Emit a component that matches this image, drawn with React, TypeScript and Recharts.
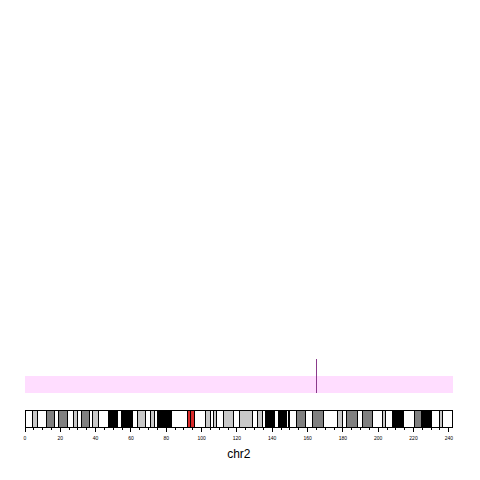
import React from "react";
import { ComposedChart, Bar, XAxis, YAxis, ReferenceLine, Label } from "recharts";

// chromosome 2, positions in Mb
const chromName = "chr2";
const chromLength = 242.193529;

const bandNames = [
  "p25.3", "p25.2", "p25.1", "p24.3", "p24.2", "p24.1", "p23.3", "p23.2", "p23.1", "p22.3",
  "p22.2", "p22.1", "p21", "p16.3", "p16.2", "p16.1", "p15", "p14", "p13.3", "p13.2",
  "p13.1", "p12", "p11.2", "p11.1", "q11.1", "q11.2", "q12.1", "q12.2", "q12.3", "q13",
  "q14.1", "q14.2", "q14.3", "q21.1", "q21.2", "q21.3", "q22.1", "q22.2", "q22.3", "q23.1",
  "q23.2", "q23.3", "q24.1", "q24.2", "q24.3", "q31.1", "q31.2", "q31.3", "q32.1", "q32.2",
  "q32.3", "q33.1", "q33.2", "q33.3", "q34", "q35", "q36.1", "q36.2", "q36.3", "q37.1",
  "q37.2", "q37.3",
];
const bandEnds = [
  4.4, 6.9, 12.0, 16.5, 19.0, 23.8, 27.7, 29.8, 31.8, 36.3,
  38.3, 41.5, 47.5, 52.6, 54.7, 61.0, 63.9, 68.4, 71.3, 73.3,
  74.8, 83.1, 91.8, 93.9, 96.0, 102.1, 105.3, 106.7, 108.7, 112.2,
  118.1, 121.6, 129.1, 131.7, 134.3, 136.1, 141.5, 143.4, 147.9, 149.0,
  149.6, 154.0, 158.9, 162.9, 168.9, 177.1, 179.7, 182.1, 188.5, 191.1,
  196.6, 202.5, 204.1, 208.2, 214.5, 220.7, 224.3, 225.2, 230.1, 234.7,
  236.4, 242.193529,
];
const bandStains = [
  "gneg", "gpos50", "gneg", "gpos75", "gneg", "gpos75", "gneg", "gpos25", "gneg", "gpos75",
  "gneg", "gpos50", "gneg", "gpos100", "gneg", "gpos100", "gneg", "gpos50", "gneg", "gpos50",
  "gneg", "gpos100", "gneg", "acen", "acen", "gneg", "gpos50", "gneg", "gpos25", "gneg",
  "gpos50", "gneg", "gpos50", "gneg", "gpos25", "gneg", "gpos100", "gneg", "gpos100", "gneg",
  "gpos25", "gneg", "gpos75", "gneg", "gpos75", "gneg", "gpos50", "gneg", "gpos75", "gneg",
  "gpos75", "gneg", "gpos50", "gneg", "gpos100", "gneg", "gpos75", "gneg", "gpos100", "gneg",
  "gpos50", "gneg",
];

const stainColor: Record<string, string> = {
  gneg: "#ffffff",
  gpos25: "#c8c8c8",
  gpos50: "#c8c8c8",
  gpos75: "#808080",
  gpos100: "#000000",
  acen: "#d92b2b",
};

// feature track
const trackRowNames = ["marker", "track"];
const trackCover = [undefined, chromLength];
const markerPositions = [165];

// axis
const minorTicks = [
  0, 5, 10, 15, 20, 25, 30, 35, 40, 45, 50, 55, 60, 65, 70, 75, 80, 85, 90, 95, 100,
  105, 110, 115, 120, 125, 130, 135, 140, 145, 150, 155, 160, 165, 170, 175, 180, 185,
  190, 195, 200, 205, 210, 215, 220, 225, 230, 235, 240,
];
const majorTicks = [0, 20, 40, 60, 80, 100, 120, 140, 160, 180, 200, 220, 240];

const trackData = trackRowNames.map((row, i) => ({ row, cover: trackCover[i] }));

const ideoRow: Record<string, any> = { row: chromName };
bandEnds.forEach((end, i) => {
  ideoRow["b" + i] = end - (i ? bandEnds[i - 1] : 0);
});
const ideoData = [ideoRow];

const font = "'Liberation Sans', Arial, sans-serif";
const margins = { left: 17, right: 19.3 };

function IdeoTick(props: any) {
  const { x, y, payload } = props;
  const major = majorTicks.includes(payload.value);
  return (
    <g>
      <line x1={x} y1={y} x2={x} y2={y + (major ? 5 : 3)} stroke="#000" />
      {major && (
        <text x={x} y={y + 12.5} textAnchor="middle" fontSize={5} fill="#000" fontFamily={font}>
          {payload.value}
        </text>
      )}
    </g>
  );
}

export default function App() {
  return (
    <div style={{ width: 464 }}>
      <style>{`.recharts-surface path, .recharts-surface line { shape-rendering: crispEdges; }`}</style>
      <ComposedChart
        layout="vertical"
        width={464}
        height={385}
        data={trackData}
        barCategoryGap={0}
        margin={{ top: 351, right: margins.right, bottom: 0, left: margins.left }}
      >
        <XAxis type="number" domain={[0, chromLength]} hide />
        <YAxis type="category" dataKey="row" hide />
        <Bar dataKey="cover" fill="#ffddff" isAnimationActive={false} />
        {markerPositions.map((p) => (
          <ReferenceLine key={p} x={p} stroke="#8b3a8b" strokeWidth={1} />
        ))}
      </ComposedChart>
      <ComposedChart
        layout="vertical"
        width={464}
        height={71}
        data={ideoData}
        barCategoryGap={0}
        margin={{ top: 17, right: margins.right, bottom: 6, left: margins.left }}
      >
        <XAxis
          type="number"
          domain={[0, chromLength]}
          ticks={minorTicks}
          interval={0}
          tickSize={0}
          tickMargin={0}
          tick={<IdeoTick />}
          tickLine={false}
          axisLine={{ stroke: "#000" }}
          height={31}
        >
          <Label value={chromName} position="insideBottom" offset={0} fontSize={12} fill="#000" fontFamily={font} />
        </XAxis>
        <YAxis type="category" dataKey="row" hide />
        {bandNames.map((name, i) => (
          <Bar
            key={name}
            dataKey={"b" + i}
            stackId="ideo"
            fill={stainColor[bandStains[i]]}
            stroke="#000"
            strokeWidth={1}
            isAnimationActive={false}
          />
        ))}
      </ComposedChart>
    </div>
  );
}
